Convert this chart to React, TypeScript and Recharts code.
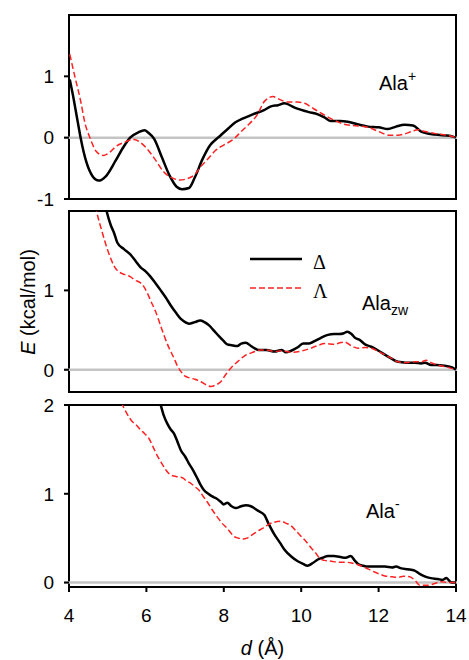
import { LineChart, Line, XAxis, YAxis, ReferenceLine, ReferenceArea, Legend, Customized } from 'recharts'

const FONT = 'Liberation Sans, Arial, sans-serif'

const xTicks = [4, 6, 8, 10, 12, 14]
const yTicksPlus = [-1, 0, 1]
const yTicksZw = [0, 1]
const yTicksMinus = [0, 1, 2]

// [d, E] pairs
const plusDelta = [
  [4.02, 0.95], [4.1, 0.7], [4.2, 0.35], [4.3, 0.0], [4.45, -0.4], [4.6, -0.62], [4.77, -0.7],
  [4.95, -0.63], [5.2, -0.38], [5.4, -0.16], [5.58, 0.0], [5.8, 0.09], [5.95, 0.12], [6.05, 0.08],
  [6.2, -0.02], [6.4, -0.32], [6.6, -0.62], [6.78, -0.8], [6.92, -0.84], [7.1, -0.82], [7.25, -0.65],
  [7.45, -0.35], [7.65, -0.12], [7.85, 0.0], [8.08, 0.13], [8.3, 0.25], [8.52, 0.32], [8.75, 0.38],
  [9.04, 0.45], [9.22, 0.51], [9.4, 0.53], [9.57, 0.56], [9.83, 0.49], [10.18, 0.42], [10.43, 0.38],
  [10.6, 0.33], [10.77, 0.27], [11.0, 0.27], [11.2, 0.26], [11.45, 0.22], [11.73, 0.18], [12.0, 0.17],
  [12.24, 0.14], [12.45, 0.18], [12.67, 0.21], [12.89, 0.2], [13.1, 0.1], [13.45, 0.05], [13.83, 0.03],
  [14, 0.0],
]
const plusLambda = [
  [4.02, 1.36], [4.15, 1.0], [4.3, 0.6], [4.42, 0.22], [4.54, 0.0], [4.7, -0.22], [4.88, -0.29],
  [5.05, -0.24], [5.2, -0.15], [5.45, -0.07], [5.68, -0.03], [5.85, -0.08], [6.0, -0.17], [6.22, -0.35],
  [6.45, -0.56], [6.68, -0.66], [6.86, -0.69], [7.05, -0.67], [7.25, -0.6], [7.42, -0.46], [7.57, -0.36],
  [7.8, -0.2], [8.0, -0.12], [8.26, -0.02], [8.45, 0.1], [8.65, 0.22], [8.85, 0.36], [9.06, 0.6],
  [9.27, 0.67], [9.45, 0.62], [9.66, 0.58], [9.9, 0.58], [10.09, 0.56], [10.25, 0.5], [10.43, 0.43],
  [10.65, 0.35], [10.87, 0.28], [11.1, 0.22], [11.3, 0.2], [11.5, 0.19], [11.73, 0.17], [12.0, 0.1],
  [12.29, 0.04], [12.5, 0.04], [12.67, 0.06], [12.85, 0.1], [13.02, 0.13], [13.2, 0.1], [13.45, 0.07],
  [13.83, 0.03], [14, 0.0],
]

const zwDelta = [
  [4.8, 2.4], [4.97, 2.0], [5.08, 1.82], [5.16, 1.73], [5.25, 1.6], [5.42, 1.52], [5.59, 1.45],
  [5.72, 1.37], [5.85, 1.29], [5.98, 1.24], [6.11, 1.17], [6.25, 1.08], [6.37, 1.0], [6.5, 0.91],
  [6.63, 0.81], [6.76, 0.72], [6.89, 0.64], [7.0, 0.6], [7.1, 0.58], [7.25, 0.6], [7.39, 0.62],
  [7.5, 0.6], [7.62, 0.56], [7.75, 0.49], [7.88, 0.42], [8.0, 0.36], [8.09, 0.32], [8.2, 0.31],
  [8.35, 0.3], [8.45, 0.33], [8.57, 0.34], [8.7, 0.3], [8.8, 0.27], [8.9, 0.25], [9.1, 0.25],
  [9.31, 0.23], [9.5, 0.25], [9.6, 0.22], [9.74, 0.24], [9.9, 0.28], [10.05, 0.33], [10.2, 0.33],
  [10.3, 0.35], [10.5, 0.4], [10.69, 0.44], [10.85, 0.45], [10.99, 0.45], [11.1, 0.46], [11.19, 0.48],
  [11.3, 0.45], [11.4, 0.4], [11.5, 0.38], [11.65, 0.32], [11.81, 0.29], [12.0, 0.24], [12.16, 0.19],
  [12.3, 0.15], [12.5, 0.1], [12.7, 0.09], [12.93, 0.09], [13.1, 0.08], [13.2, 0.09], [13.36, 0.06],
  [13.5, 0.06], [13.7, 0.05], [13.9, 0.03], [14, 0.0],
]
const zwLambda = [
  [4.55, 2.4], [4.71, 2.0], [4.86, 1.73], [4.99, 1.52], [5.08, 1.4], [5.16, 1.31], [5.25, 1.25],
  [5.38, 1.21], [5.5, 1.19], [5.59, 1.17], [5.7, 1.13], [5.83, 1.1], [5.93, 1.05], [6.02, 0.97],
  [6.12, 0.86], [6.24, 0.73], [6.35, 0.58], [6.45, 0.44], [6.58, 0.28], [6.71, 0.15], [6.8, 0.05],
  [6.89, -0.02], [7.0, -0.08], [7.1, -0.1], [7.25, -0.12], [7.4, -0.15], [7.55, -0.19], [7.66, -0.21],
  [7.8, -0.19], [7.92, -0.15], [8.05, -0.06], [8.18, 0.02], [8.35, 0.1], [8.52, 0.17], [8.75, 0.22],
  [8.95, 0.25], [9.1, 0.25], [9.31, 0.23], [9.5, 0.24], [9.74, 0.22], [9.95, 0.23], [10.18, 0.26],
  [10.4, 0.3], [10.61, 0.33], [10.86, 0.32], [11.0, 0.34], [11.12, 0.35], [11.3, 0.3], [11.47, 0.27],
  [11.65, 0.28], [11.81, 0.27], [12.0, 0.23], [12.16, 0.19], [12.35, 0.14], [12.5, 0.1], [12.7, 0.09],
  [12.93, 0.1], [13.1, 0.1], [13.23, 0.12], [13.35, 0.09], [13.53, 0.06], [13.79, 0.03], [14, 0.0],
]

const minusDelta = [
  [6.2, 2.3], [6.37, 2.0], [6.45, 1.88], [6.54, 1.79], [6.62, 1.73], [6.71, 1.68], [6.8, 1.59],
  [6.89, 1.49], [7.0, 1.42], [7.1, 1.34], [7.2, 1.27], [7.32, 1.17], [7.4, 1.1], [7.49, 1.04],
  [7.6, 1.0], [7.7, 0.97], [7.8, 0.95], [7.92, 0.91], [8.0, 0.88], [8.09, 0.9], [8.2, 0.86],
  [8.31, 0.84], [8.45, 0.86], [8.57, 0.87], [8.7, 0.86], [8.78, 0.84], [8.88, 0.81], [9.05, 0.76],
  [9.15, 0.67], [9.31, 0.54], [9.45, 0.45], [9.57, 0.37], [9.75, 0.29], [9.91, 0.24], [10.05, 0.21],
  [10.16, 0.19], [10.3, 0.22], [10.43, 0.26], [10.55, 0.28], [10.69, 0.3], [10.85, 0.3], [10.99, 0.29],
  [11.15, 0.28], [11.28, 0.3], [11.38, 0.25], [11.47, 0.21], [11.6, 0.19], [11.73, 0.18], [11.95, 0.18],
  [12.16, 0.18], [12.35, 0.17], [12.45, 0.18], [12.59, 0.16], [12.75, 0.15], [12.93, 0.135], [13.05, 0.1],
  [13.19, 0.07], [13.35, 0.05], [13.53, 0.04], [13.65, 0.03], [13.75, 0.05], [13.88, 0.0], [14, 0.0],
]
const minusLambda = [
  [5.1, 2.2], [5.38, 2.0], [5.5, 1.9], [5.64, 1.81], [5.75, 1.77], [5.85, 1.72], [5.95, 1.68],
  [6.07, 1.62], [6.18, 1.52], [6.28, 1.43], [6.4, 1.34], [6.5, 1.27], [6.6, 1.22], [6.71, 1.2],
  [6.82, 1.19], [6.93, 1.18], [7.05, 1.14], [7.14, 1.12], [7.25, 1.08], [7.36, 1.04], [7.47, 0.97],
  [7.57, 0.91], [7.7, 0.82], [7.83, 0.74], [7.95, 0.67], [8.09, 0.61], [8.18, 0.56], [8.26, 0.52],
  [8.38, 0.5], [8.48, 0.49], [8.6, 0.5], [8.74, 0.54], [8.88, 0.58], [9.0, 0.61], [9.14, 0.65],
  [9.3, 0.68], [9.49, 0.69], [9.6, 0.67], [9.74, 0.64], [9.87, 0.58], [10.0, 0.52], [10.13, 0.46],
  [10.26, 0.39], [10.38, 0.33], [10.48, 0.27], [10.6, 0.25], [10.78, 0.24], [10.95, 0.23], [11.12, 0.23],
  [11.3, 0.22], [11.47, 0.2], [11.65, 0.17], [11.81, 0.135], [12.0, 0.1], [12.16, 0.075], [12.35, 0.065],
  [12.5, 0.06], [12.65, 0.07], [12.8, 0.065], [12.95, 0.02], [13.06, -0.03], [13.28, -0.03], [13.45, -0.01],
  [13.62, 0.01], [13.8, 0.0], [14, 0.0],
]

const toPts = (arr: number[][]) => arr.map(([x, y]) => ({ x, y }))

const BLACK = '#000'
const RED = '#f22'
const GRAY = '#c4c4c4'

const tickStyle = { fontSize: 19, fontFamily: FONT, fill: '#000' }
const tickLineStyle = { stroke: '#000', strokeWidth: 2 }

function LegendBox(props: any) {
  const items = props.payload || []
  return (
    <svg width={100} height={56} style={{ overflow: 'visible' }}>
      {items.map((entry: any, i: number) => {
        const y = 9 + i * 29
        return (
          <g key={entry.value}>
            <line
              x1={0}
              x2={52}
              y1={y}
              y2={y}
              stroke={entry.color}
              strokeWidth={entry.payload?.strokeWidth}
              strokeDasharray={entry.payload?.strokeDasharray}
            />
            <text x={63} y={y + 10} fontSize={20} fontFamily="Liberation Serif, Times New Roman, serif" fill="#000">
              {entry.value}
            </text>
          </g>
        )
      })}
    </svg>
  )
}

function Panel({
  top,
  height,
  marginTop,
  marginBottom = 0,
  xHeight,
  domain,
  yTicks,
  delta,
  lambda,
  showX,
  legend,
  children,
}: any) {
  return (
    <div style={{ position: 'absolute', left: 0, top, width: 469, height }}>
      <LineChart width={469} height={height} margin={{ top: marginTop, right: 13, bottom: marginBottom, left: 0 }}>
        <XAxis
          type="number"
          dataKey="x"
          domain={[4, 14]}
          ticks={xTicks}
          height={xHeight}
          axisLine={false}
          tickLine={tickLineStyle}
          tickSize={5}
          tickMargin={17}
          tick={showX ? tickStyle : false}
          interval={0}
          allowDecimals={false}
        />
        <YAxis
          type="number"
          domain={domain}
          ticks={yTicks}
          width={69}
          allowDataOverflow
          axisLine={false}
          tickLine={tickLineStyle}
          tickSize={5}
          tickMargin={10}
          tick={tickStyle}
          interval={0}
        />
        <ReferenceLine
          segment={[{ x: 3.88, y: 0 }, { x: 14.03, y: 0 }]}
          ifOverflow="visible"
          stroke={GRAY}
          strokeWidth={2.5}
        />
        <Line
          data={toPts(delta)}
          dataKey="y"
          name="Δ"
          type="monotone"
          stroke={BLACK}
          strokeWidth={2.5}
          dot={false}
          isAnimationActive={false}
        />
        <Line
          data={toPts(lambda)}
          dataKey="y"
          name="Λ"
          type="monotone"
          stroke={RED}
          strokeWidth={1.5}
          strokeDasharray="6 3"
          dot={false}
          isAnimationActive={false}
        />
        <ReferenceArea
          x1={4}
          x2={14}
          y1={domain[0]}
          y2={domain[1]}
          fill="none"
          fillOpacity={0}
          stroke="#000"
          strokeWidth={2}
        />
        {legend ? (
          <Legend
            content={<LegendBox />}
            layout="vertical"
            verticalAlign="middle"
            align="center"
            wrapperStyle={{ left: 250, top: 50, width: 100 }}
          />
        ) : null}
        <Customized component={() => <g>{children}</g>} />
      </LineChart>
    </div>
  )
}

export default function App() {
  return (
    <div style={{ position: 'absolute', left: 0, top: 0, width: 469, height: 660, background: '#fff' }}>
      <Panel
        top={0}
        height={214}
        marginTop={15}
        marginBottom={7}
        xHeight={8}
        domain={[-1, 2]}
        yTicks={yTicksPlus}
        delta={plusDelta}
        lambda={plusLambda}
      >
        <text x={379} y={90} fontSize={20} fontFamily={FONT} fill="#000">
          Ala<tspan fontSize={14} dy={-9}>+</tspan>
        </text>
      </Panel>
      <Panel
        top={200}
        height={200}
        marginTop={11}
        xHeight={8}
        domain={[-0.28, 2]}
        yTicks={yTicksZw}
        delta={zwDelta}
        lambda={zwLambda}
        legend
      >
        <text x={362} y={110} fontSize={20} fontFamily={FONT} fill="#000">
          Ala<tspan fontSize={14} dy={5}>zw</tspan>
        </text>
        <text
          x={35}
          y={102}
          fontSize={20}
          fontFamily={FONT}
          fill="#000"
          textAnchor="middle"
          transform="rotate(-90 35 102)"
        >
          <tspan fontStyle="italic">E</tspan> (kcal/mol)
        </text>
      </Panel>
      <Panel
        top={395}
        height={265}
        marginTop={10}
        xHeight={73}
        domain={[-0.05, 2]}
        yTicks={yTicksMinus}
        delta={minusDelta}
        lambda={minusLambda}
        showX
      >
        <text x={366} y={123} fontSize={20} fontFamily={FONT} fill="#000">
          Ala<tspan fontSize={14} dy={-9}>-</tspan>
        </text>
        <text x={262.5} y={260} fontSize={20} fontFamily={FONT} fill="#000" textAnchor="middle">
          <tspan fontStyle="italic">d</tspan> (Å)
        </text>
      </Panel>
    </div>
  )
}
